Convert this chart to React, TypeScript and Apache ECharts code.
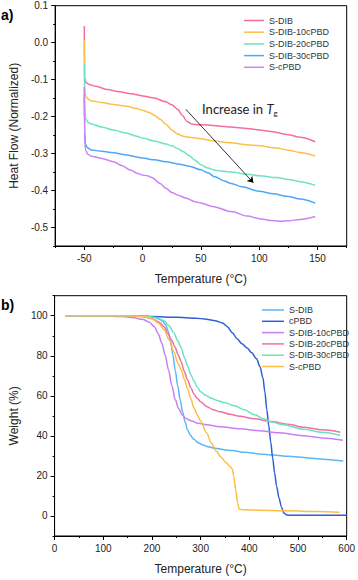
import React, { useEffect, useRef } from "react";
import * as echarts from "echarts";

// ---------- Panel a) DSC ----------
const dscNames = ["S-DIB", "S-DIB-10cPBD", "S-DIB-20cPBD", "S-DIB-30cPBD", "S-cPBD"];
const dscColors = ["#f36f9f", "#fcbf4a", "#6fe1c6", "#4da8f6", "#c985f2"];

const dscSDIB: [number, number][] = [
  [-50, 0.045], [-49.7, -0.095], [-48.5, -0.108], [-46, -0.113], [-40, -0.118], [-30, -0.127],
  [-20, -0.133], [-10, -0.138], [0, -0.144], [10, -0.15], [20, -0.16], [25, -0.168], [30, -0.18],
  [34, -0.196], [38, -0.213], [42, -0.22], [46, -0.222], [50, -0.222], [60, -0.224], [75, -0.228],
  [90, -0.232], [100, -0.236], [110, -0.24], [125, -0.249], [135, -0.256], [148, -0.268],
];
const dsc10: [number, number][] = [
  [-50, 0.008], [-49.7, -0.12], [-49, -0.142], [-47, -0.152], [-44, -0.157], [-35, -0.162],
  [-25, -0.167], [-15, -0.171], [-5, -0.178], [0, -0.183], [5, -0.188], [10, -0.196], [15, -0.207],
  [20, -0.221], [25, -0.236], [30, -0.247], [35, -0.253], [40, -0.256], [50, -0.26], [60, -0.265],
  [75, -0.271], [90, -0.276], [100, -0.279], [115, -0.285], [125, -0.291], [135, -0.297], [148, -0.307],
];
const dsc20: [number, number][] = [
  [-50, -0.055], [-49.7, -0.17], [-49, -0.205], [-47, -0.215], [-44, -0.22], [-35, -0.228],
  [-25, -0.236], [-15, -0.244], [-5, -0.253], [0, -0.258], [10, -0.266], [20, -0.274], [25, -0.279],
  [30, -0.286], [35, -0.295], [40, -0.306], [45, -0.318], [50, -0.33], [55, -0.338], [62, -0.345],
  [70, -0.348], [76, -0.35], [90, -0.356], [100, -0.36], [115, -0.365], [125, -0.37], [135, -0.376],
  [148, -0.386],
];
const dsc30: [number, number][] = [
  [-50, -0.14], [-49.7, -0.24], [-49, -0.275], [-47, -0.285], [-44, -0.29], [-35, -0.294],
  [-25, -0.298], [-15, -0.303], [-5, -0.309], [0, -0.312], [10, -0.317], [20, -0.322], [30, -0.328],
  [40, -0.334], [50, -0.344], [56, -0.352], [62, -0.363], [70, -0.374], [76, -0.381], [85, -0.39],
  [100, -0.402], [112, -0.409], [125, -0.416], [135, -0.423], [148, -0.434],
];
const dscSCPBD: [number, number][] = [
  [-50, -0.12], [-49.7, -0.25], [-49, -0.29], [-47, -0.302], [-44, -0.307], [-35, -0.313],
  [-25, -0.322], [-18, -0.332], [-10, -0.345], [-5, -0.353], [0, -0.358], [4, -0.36], [8, -0.365],
  [15, -0.381], [20, -0.394], [25, -0.405], [30, -0.412], [37, -0.42], [45, -0.43], [50, -0.434],
  [60, -0.443], [76, -0.457], [90, -0.469], [100, -0.476], [110, -0.481], [117, -0.483], [125, -0.482],
  [135, -0.478], [148, -0.47],
];
const dscData = [dscSDIB, dsc10, dsc20, dsc30, dscSCPBD];
const dscXLabels = [-50, 0, 50, 100, 150];
const dscXMinor = [-75, -25, 25, 75, 125, 175];
const dscYLabels = [-0.5, -0.4, -0.3, -0.2, -0.1, 0, 0.1];
const dscYMinor = [-0.55, -0.45, -0.35, -0.25, -0.15, -0.05, 0.05];
const arrowStart: [number, number] = [37, -0.18];
const arrowEnd: [number, number] = [95, -0.379];
const noteAt: [number, number] = [51, -0.18];

// ---------- Panel b) TGA ----------
const tgaNames = ["S-DIB", "cPBD", "S-DIB-10cPBD", "S-DIB-20cPBD", "S-DIB-30cPBD", "S-cPBD"];
const tgaColors = ["#5cb6f6", "#2f5fd8", "#c880f1", "#f4709f", "#68e2c6", "#fcbe47"];

const tgaSDIB: [number, number][] = [
  [23, 100], [150, 100], [190, 99.7], [205, 99.2], [215, 98.3], [222, 97.3], [228, 95.5], [233, 92.5],
  [238, 87.5], [243, 80.5], [248, 72.5], [253, 65], [258, 58], [263, 52], [268, 47], [273, 43],
  [279, 40.3], [286, 38.3], [295, 36.6], [305, 35.4], [315, 34.6], [330, 33.8], [350, 33], [365, 32.7],
  [390, 31.8], [420, 31], [450, 30.4], [480, 29.8], [520, 29], [560, 28.2], [593, 27.4],
];
const tgaCPBD: [number, number][] = [
  [23, 100], [150, 100], [200, 99.6], [250, 99.2], [290, 98.8], [312, 98.3], [330, 97.5], [345, 96.4],
  [355, 94.5], [365, 91.5], [375, 88.5], [385, 86], [395, 84], [405, 81.5], [415, 78.5], [422, 74.5],
  [428, 69], [432, 62], [436, 53], [440, 45], [444, 37], [448, 29], [452, 21.5], [456, 15], [461, 9],
  [466, 4.5], [471, 1.5], [477, 0.5], [485, 0.3], [600, 0.3],
];
const tga10: [number, number][] = [
  [23, 100], [100, 99.9], [140, 99.6], [160, 99.1], [180, 98.2], [195, 96.8], [205, 94.5], [213, 91],
  [220, 86.5], [227, 80.5], [234, 73], [241, 65], [248, 58], [255, 53.5], [262, 50.5], [270, 48.7],
  [280, 47.5], [295, 46.3], [312, 45.5], [340, 44.6], [380, 43.6], [420, 42.6], [460, 41.5],
  [510, 40.1], [550, 39], [592, 37.8],
];
const tga20: [number, number][] = [
  [23, 100], [150, 100], [180, 99.6], [200, 98.6], [215, 96.8], [225, 94.5], [233, 91], [240, 88],
  [247, 84.5], [254, 80.5], [260, 77], [266, 72.5], [273, 68], [280, 64], [286, 61], [293, 58.8],
  [300, 57], [313, 54.6], [326, 53], [340, 52], [360, 50.8], [380, 49.8], [410, 48.5], [445, 47.2],
  [480, 45.8], [511, 44.3], [550, 43], [587, 41.8],
];
const tga30: [number, number][] = [
  [23, 100], [150, 100], [190, 99.7], [210, 99], [225, 97.5], [235, 95], [245, 91.5], [253, 87.5],
  [260, 84], [267, 79], [273, 75], [280, 70.5], [286, 67.5], [293, 64.5], [300, 62], [310, 60.3],
  [322, 58.8], [335, 57.6], [350, 56.5], [370, 55], [390, 53], [411, 50.5], [430, 48.5], [445, 47],
  [470, 45.5], [511, 43.3], [550, 41.8], [587, 40.3],
];
const tgaSCPBD: [number, number][] = [
  [23, 100], [150, 100], [185, 99.5], [200, 98.5], [215, 96], [225, 93], [235, 88], [245, 82],
  [253, 76.5], [260, 73], [267, 68], [273, 63.5], [280, 58.5], [286, 54], [293, 50.5], [300, 47.5],
  [312, 41.5], [322, 36.5], [332, 32.4], [342, 29.3], [352, 26.7], [360, 24.8], [365, 23.5], [368, 20],
  [372, 13], [376, 6.5], [379, 3.5], [385, 3.1], [420, 2.9], [480, 2.6], [540, 2.2], [585, 1.9],
];
const tgaData = [tgaSDIB, tgaCPBD, tga10, tga20, tga30, tgaSCPBD];
const tgaXLabels = [0, 100, 200, 300, 400, 500, 600];
const tgaXMinor = [50, 150, 250, 350, 450, 550];
const tgaYLabels = [0, 20, 40, 60, 80, 100];
const tgaYMinor = [-10, 10, 30, 50, 70, 90, 110];

const FONT = "Liberation Sans";
const TXT = "#222";

function axisPair(
  dir: "x" | "y",
  min: number,
  max: number,
  labels: number[],
  minor: number[],
  name: string,
  nameGap: number,
  fmt: (v: number) => string
) {
  const main: any = {
    type: "value",
    min,
    max,
    position: dir === "x" ? "bottom" : "left",
    name,
    nameLocation: "middle",
    nameGap,
    nameTextStyle: { fontFamily: FONT, fontSize: 12, color: TXT },
    axisLine: { show: true, onZero: false, lineStyle: { color: "#000", width: 1 } },
    axisTick: { show: true, inside: false, length: 4, customValues: labels, lineStyle: { color: "#000" } },
    axisLabel: {
      show: true,
      customValues: labels,
      fontFamily: FONT,
      fontSize: 10,
      color: TXT,
      margin: 7,
      formatter: (v: number) => fmt(v),
    },
    splitLine: { show: false },
  };
  const sub: any = {
    type: "value",
    min,
    max,
    position: dir === "x" ? "bottom" : "left",
    axisLine: { show: false, onZero: false },
    axisTick: { show: true, inside: false, length: 2, customValues: minor, lineStyle: { color: "#000" } },
    axisLabel: { show: false },
    splitLine: { show: false },
  };
  return [main, sub];
}

function Panel({ option, top }: { option: any; top: number }) {
  const ref = useRef<HTMLDivElement>(null);
  useEffect(() => {
    if (!ref.current) return;
    const chart = echarts.init(ref.current, undefined, { renderer: "svg" });
    chart.setOption(option);
    return () => chart.dispose();
  }, [option]);
  return (
    <div
      ref={ref}
      style={{ position: "absolute", left: 0, top, width: 358, height: 290 }}
    />
  );
}

const fmtDsc = (v: number) => {
  const r = Math.round(v * 10) / 10;
  return r === 0 ? "0.0" : r.toFixed(1);
};

const dscOption: any = {
  animation: false,
  backgroundColor: "#fff",
  grid: { left: 44.3, top: 5.7, width: 302.4, height: 242.3, show: true, borderColor: "#000", borderWidth: 1 },
  xAxis: axisPair("x", -75, 175, dscXLabels, dscXMinor, "Temperature (°C)", 27, (v) => String(v)),
  yAxis: axisPair("y", -0.55, 0.1, dscYLabels, dscYMinor, "Heat Flow (Normalized)", 31, fmtDsc),
  legend: {
    orient: "vertical",
    left: 239,
    top: 10,
    icon: "rect",
    itemWidth: 20,
    itemHeight: 1.5,
    itemGap: 0.7,
    data: dscNames,
    textStyle: { fontFamily: FONT, fontSize: 9, color: "#333", lineHeight: 11 },
  },
  graphic: [
    { type: "text", left: 1, top: 8, style: { text: "a)", fontFamily: FONT, fontWeight: "bold", fontSize: 14, fill: "#000" } },
  ],
  series: dscNames.map((n, i) => ({
    name: n,
    type: "line",
    data: dscData[i],
    showSymbol: false,
    symbol: "none",
    smooth: 0.3,
    smoothMonotone: "x",
    color: dscColors[i],
    lineStyle: { width: 1.5, color: dscColors[i] },
    ...(i === 0
      ? {
          markLine: {
            silent: true,
            symbol: ["none", "arrow"],
            symbolSize: 6,
            label: { show: false },
            lineStyle: { color: "#000", width: 0.8, type: "solid" },
            data: [[{ coord: arrowStart }, { coord: arrowEnd }]],
          },
          markPoint: {
            silent: true,
            symbol: "circle",
            symbolSize: 0,
            data: [{ coord: noteAt }],
            label: {
              show: true,
              position: "right",
              distance: 0,
              formatter: "{n|Increase in }{i|T}{s|g}",
              rich: {
                n: { fontFamily: "Lato", fontSize: 13, color: TXT },
                i: { fontFamily: "Lato", fontSize: 13, fontStyle: "italic", color: TXT },
                s: { fontFamily: "Lato", fontSize: 8, color: TXT, padding: [8, 0, 0, 0] },
              },
            },
          },
        }
      : {}),
  })),
};

const tgaOption: any = {
  animation: false,
  backgroundColor: "#fff",
  grid: { left: 45.7, top: 5.7, width: 302.6, height: 242.6, show: true, borderColor: "#000", borderWidth: 1 },
  xAxis: axisPair("x", 0, 600, tgaXLabels, tgaXMinor, "Temperature (°C)", 27, (v) => String(v)),
  yAxis: axisPair("y", -10, 110, tgaYLabels, tgaYMinor, "Weight (%)", 29, (v) => String(v)),
  legend: {
    orient: "vertical",
    left: 257,
    top: 9.5,
    icon: "rect",
    itemWidth: 22,
    itemHeight: 1.5,
    itemGap: 0.3,
    data: tgaNames,
    textStyle: { fontFamily: FONT, fontSize: 9, color: "#333", lineHeight: 11 },
  },
  graphic: [
    { type: "text", left: 1, top: 8, style: { text: "b)", fontFamily: FONT, fontWeight: "bold", fontSize: 14, fill: "#000" } },
  ],
  series: tgaNames.map((n, i) => ({
    name: n,
    type: "line",
    data: tgaData[i],
    showSymbol: false,
    symbol: "none",
    smooth: 0.3,
    smoothMonotone: "x",
    color: tgaColors[i],
    lineStyle: { width: 1.5, color: tgaColors[i] },
  })),
};

export default function App() {
  return (
    <div style={{ position: "fixed", left: 0, top: 0, width: 358, height: 580, background: "#fff" }}>
      <Panel option={dscOption} top={0} />
      <Panel option={tgaOption} top={290} />
    </div>
  );
}
